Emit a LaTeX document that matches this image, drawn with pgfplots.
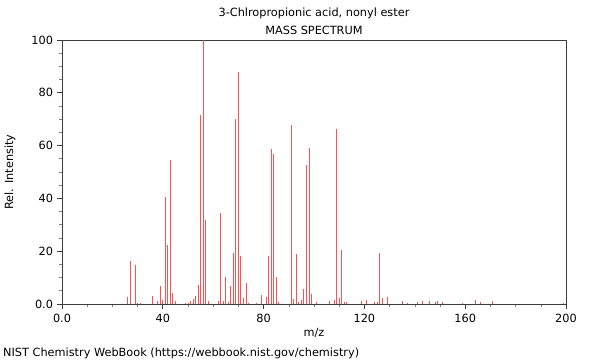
\documentclass[border=0pt]{standalone}
\usepackage{pgfplots}
\pgfplotsset{compat=1.18}
\usepackage{fontspec}
\setmainfont{DejaVu Sans}
\definecolor{peak}{RGB}{255,80,80}
\definecolor{frame}{RGB}{60,60,60}
\begin{document}
\fontsize{11.3bp}{13.5bp}\selectfont
\begin{tikzpicture}
\useasboundingbox (0,0) rectangle (600bp,360bp);
\begin{axis}[
  at={(62bp,56bp)}, anchor=south west,
  scale only axis, width=504bp, height=264bp,
  xmin=0, xmax=200, ymin=0, ymax=100,
  axis line style={frame, line width=0.8bp},
  xtick={0,40,80,120,160,200},
  xticklabels={0.0,40,80,120,160,200},
  ytick={0,20,40,60,80,100},
  yticklabels={0.0,20,40,60,80,100},
  minor x tick num=3, minor y tick num=3,
  tick align=outside, xtick pos=bottom, ytick pos=left,
  major tick length=5bp, minor tick length=3bp,
  every tick/.style={frame, line width=0.7bp},
  minor tick style={gray, line width=0.6bp},
  tick label style={font=\fontsize{11.3bp}{13.5bp}\selectfont},
  xticklabel style={yshift=-1bp},
  /pgf/number format/assume math mode=true,
]
\addplot[ycomb, color=peak, line width=0.9bp, mark=none] coordinates {
(26,2.8) (27,16.4) (29,14.9) (30,0.5) (31,0.5) (36,3.2) (38,1.3) (39,6.7) (40,1.6)
(41,40.4) (42,22.3) (43,54.7) (44,4.2) (45,1.0) (49,0.4) (50,0.4) (51,1.0) (52,1.8)
(53,3.0) (54,7.1) (55,71.7) (56,100) (57,31.8) (58,1.3) (62,1.0) (63,34.3) (64,1.0)
(65,10.1) (66,0.8) (67,6.8) (68,19.4) (69,70.2) (70,87.8) (71,18.2) (72,2.3) (73,7.8)
(74,0.5) (77,0.4) (79,3.4) (81,2.7) (82,18.2) (83,58.8) (84,56.8) (85,10.1) (86,0.8)
(91,67.7) (92,2.0) (93,18.9) (94,0.8) (95,1.5) (96,5.8) (97,52.8) (98,59.1) (99,3.8)
(101,0.8) (106,1.3) (108,1.5) (109,66.4) (110,2.3) (111,20.4) (112,0.8) (113,0.8)
(119,1.0) (121,1.5) (124,0.8) (125,0.8) (126,19.4) (127,2.3) (129,2.5) (135,1.0)
(137,0.3) (141,0.6) (143,1.0) (146,1.3) (148,0.6) (149,1.3) (151,0.6) (159,0.2)
(164,1.5) (166,0.6) (171,1.0) (199,0.5)
};
\end{axis}
\node at (314bp,347bp) {3-Chlropropionic acid, nonyl ester};
\node at (314bp,330bp) {MASS SPECTRUM};
\node at (314bp,27bp) {m/z};
\node[rotate=90] at (10bp,188bp) {Rel. Intensity};
\node[anchor=west, inner sep=0pt] at (3bp,7bp) {NIST Chemistry WebBook (https://webbook.nist.gov/chemistry)};
\end{tikzpicture}
\end{document}
